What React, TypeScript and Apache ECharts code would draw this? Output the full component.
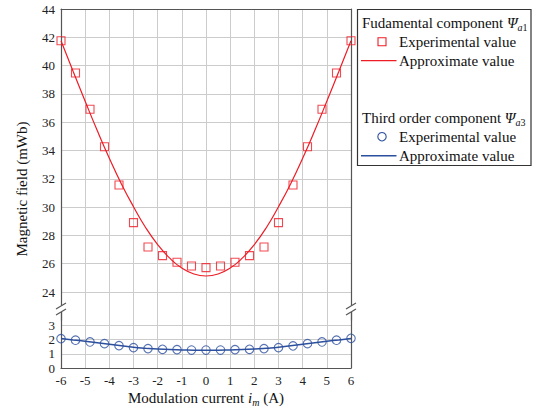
import React, { useEffect, useRef } from "react";
import * as echarts from "echarts";

const xExp = [-6, -5.4, -4.8, -4.2, -3.6, -3, -2.4, -1.8, -1.2, -0.6, 0, 0.6, 1.2, 1.8, 2.4, 3, 3.6, 4.2, 4.8, 5.4, 6];
const fundExp = [41.76, 39.48, 36.91, 34.27, 31.56, 28.9, 27.18, 26.57, 26.1, 25.84, 25.72, 25.84, 26.1, 26.57, 27.18, 28.9, 31.56, 34.27, 36.91, 39.48, 41.76];
const thirdExp = [2.06, 1.95, 1.83, 1.71, 1.57, 1.43, 1.36, 1.31, 1.29, 1.26, 1.26, 1.26, 1.29, 1.31, 1.36, 1.43, 1.55, 1.71, 1.83, 1.95, 2.08];

const xFit = [-6, -5.5, -5, -4.5, -4, -3.5, -3, -2.5, -2, -1.5, -1, -0.5, 0, 0.5, 1, 1.5, 2, 2.5, 3, 3.5, 4, 4.5, 5, 5.5, 6];
const fundFit = [41.76, 39.6, 37.48, 35.41, 33.45, 31.64, 30.03, 28.56, 27.35, 26.39, 25.69, 25.27, 25.13, 25.27, 25.69, 26.39, 27.35, 28.56, 30.03, 31.64, 33.45, 35.41, 37.48, 39.6, 41.76];
const thirdFit = [2.07, 1.97, 1.88, 1.78, 1.67, 1.56, 1.46, 1.39, 1.33, 1.29, 1.27, 1.25, 1.25, 1.25, 1.27, 1.29, 1.33, 1.39, 1.46, 1.56, 1.67, 1.78, 1.88, 1.97, 2.07];

const upperRange = [22, 44];
const lowerRange = [0, 4];
const xRange = [-6, 6];

const RED = "#ee1c25";
const BLUE = "#2c4f9e";
const GRID = "#cccccc";
const AXIS = "#555555";
const FONT = "Liberation Serif";

const pairs = (xs: number[], ys: number[]) => xs.map((x, i) => [x, ys[i]]);

export default function App() {
  const ref = useRef<HTMLDivElement>(null);
  useEffect(() => {
    if (!ref.current) return;
    const chart = echarts.init(ref.current, null, { renderer: "svg" });
    const axisLine = { show: true, onZero: false, lineStyle: { color: AXIS, width: 1.2 } };
    const split = { show: true, lineStyle: { color: GRID, width: 1 } };
    const label = { fontFamily: FONT, fontSize: 13, color: "#222" };
    const hidden = { show: false };
    const subRich = {
      n: { fontFamily: FONT, fontSize: 15, color: "#111", lineHeight: 16, verticalAlign: "middle" },
      p: { fontFamily: FONT, fontSize: 15, fontStyle: "italic", color: "#111", lineHeight: 16, verticalAlign: "middle" },
      s: { fontFamily: FONT, fontSize: 10, fontStyle: "italic", color: "#111", lineHeight: 19, verticalAlign: "bottom" },
      t: { fontFamily: FONT, fontSize: 10, color: "#111", lineHeight: 19, verticalAlign: "bottom" },
    };
    const txt = (x: number, y: number, text: string, rich = false) => ({
      type: "text",
      x,
      y,
      style: {
        text,
        font: '15px "Liberation Serif"',
        fontFamily: FONT,
        fontSize: 15,
        fill: "#111",
        align: "left",
        verticalAlign: "middle",
        textAlign: "left",
        textVerticalAlign: "middle",
        ...(rich ? { rich: subRich } : {}),
      },
    });
    const breakMarks = (ax: number) => [
      { type: "rect", shape: { x: ax - 4, y: 305.5, width: 8, height: 6.5 }, style: { fill: "#fff" }, z: 100 },
      { type: "line", shape: { x1: ax - 5, y1: 309, x2: ax + 5, y2: 303 }, style: { stroke: AXIS, lineWidth: 1.1 }, z: 101 },
      { type: "line", shape: { x1: ax - 5, y1: 315, x2: ax + 5, y2: 309 }, style: { stroke: AXIS, lineWidth: 1.1 }, z: 101 },
    ];
    chart.setOption({
      animation: false,
      textStyle: { fontFamily: FONT },
      grid: [
        { left: 61, right: 189, top: 9, height: 311.3 },
        { left: 61, right: 189, top: 311, height: 57 },
      ],
      xAxis: [
        {
          gridIndex: 0, type: "value", position: "top", min: xRange[0], max: xRange[1], interval: 1,
          axisLine, axisTick: hidden, axisLabel: hidden, splitLine: split,
        },
        {
          gridIndex: 1, type: "value", position: "bottom", min: xRange[0], max: xRange[1], interval: 1,
          axisLine, axisTick: hidden, splitLine: split,
          axisLabel: { ...label, margin: 6 },
          name: "{n|Modulation current }{p|i}{s|m}{n| (A)}",
          nameLocation: "middle",
          nameGap: 20,
          nameTextStyle: { rich: subRich, fontFamily: FONT, fontSize: 15, color: "#111" },
        },
      ],
      yAxis: [
        {
          gridIndex: 0, type: "value", min: upperRange[0], max: upperRange[1], interval: 2,
          axisLine, axisTick: hidden,
          splitLine: { ...split, showMinLine: false, showMaxLine: false },
          axisLabel: { ...label, margin: 6, formatter: (v: number) => (v === upperRange[0] ? "" : String(v)) },
        },
        {
          gridIndex: 1, type: "value", min: lowerRange[0], max: lowerRange[1], interval: 1,
          axisLine, axisTick: hidden,
          splitLine: { ...split, showMinLine: false, showMaxLine: false },
          axisLabel: { ...label, margin: 6, formatter: (v: number) => (v === lowerRange[1] ? "" : String(v)) },
        },
        {
          gridIndex: 0, type: "value", position: "right", min: upperRange[0], max: upperRange[1],
          axisLine, axisTick: hidden, axisLabel: hidden, splitLine: hidden,
        },
        {
          gridIndex: 1, type: "value", position: "right", min: lowerRange[0], max: lowerRange[1],
          axisLine, axisTick: hidden, axisLabel: hidden, splitLine: hidden,
        },
      ],
      series: [
        {
          name: "Fundamental approximate", type: "line", xAxisIndex: 0, yAxisIndex: 0, smooth: true,
          showSymbol: false, data: pairs(xFit, fundFit), lineStyle: { color: RED, width: 1.2 }, z: 2,
        },
        {
          name: "Fundamental experimental", type: "scatter", xAxisIndex: 0, yAxisIndex: 0, symbol: "rect",
          symbolSize: 8, data: pairs(xExp, fundExp),
          itemStyle: { color: "rgba(255,255,255,0)", borderColor: RED, borderWidth: 1.1 }, z: 3,
        },
        {
          name: "Third approximate", type: "line", xAxisIndex: 1, yAxisIndex: 1, smooth: true,
          showSymbol: false, data: pairs(xFit, thirdFit), lineStyle: { color: BLUE, width: 1.5 }, z: 2,
        },
        {
          name: "Third experimental", type: "scatter", xAxisIndex: 1, yAxisIndex: 1, symbol: "circle",
          symbolSize: 8.5, data: pairs(xExp, thirdExp),
          itemStyle: { color: "rgba(255,255,255,0)", borderColor: BLUE, borderWidth: 1.1 }, z: 3,
        },
      ],
      graphic: [
        ...breakMarks(61),
        ...breakMarks(351),
        {
          type: "text", x: 22, y: 189, rotation: Math.PI / 2,
          style: {
            text: "Magnetic field (mWb)", font: '15px "Liberation Serif"', fontFamily: FONT, fontSize: 15, fill: "#111",
            align: "center", verticalAlign: "middle", textAlign: "center", textVerticalAlign: "middle",
          },
        },
        { type: "rect", shape: { x: 357.5, y: 9.5, width: 173.5, height: 156 }, style: { fill: "#fff", stroke: "#333", lineWidth: 1.2 } },
        txt(362, 23, "{n|Fudamental component }{p|Ψ}{s|a}{t|1}", true),
        { type: "rect", shape: { x: 378, y: 37.7, width: 8, height: 8 }, style: { fill: "none", stroke: RED, lineWidth: 1.1 } },
        txt(399, 41.7, "Experimental value"),
        { type: "line", shape: { x1: 361, y1: 60.7, x2: 396.5, y2: 60.7 }, style: { stroke: RED, lineWidth: 1.2 } },
        txt(399, 60.7, "Approximate value"),
        txt(362, 117.5, "{n|Third order component }{p|Ψ}{s|a}{t|3}", true),
        { type: "circle", shape: { cx: 382, cy: 136.7, r: 4.2 }, style: { fill: "none", stroke: BLUE, lineWidth: 1.1 } },
        txt(399, 136.7, "Experimental value"),
        { type: "line", shape: { x1: 361, y1: 155.7, x2: 396.5, y2: 155.7 }, style: { stroke: BLUE, lineWidth: 1.5 } },
        txt(399, 155.7, "Approximate value"),
      ],
    });
    return () => chart.dispose();
  }, []);
  return <div ref={ref} style={{ width: 540, height: 409, position: "absolute", left: 0, top: 0 }} />;
}
